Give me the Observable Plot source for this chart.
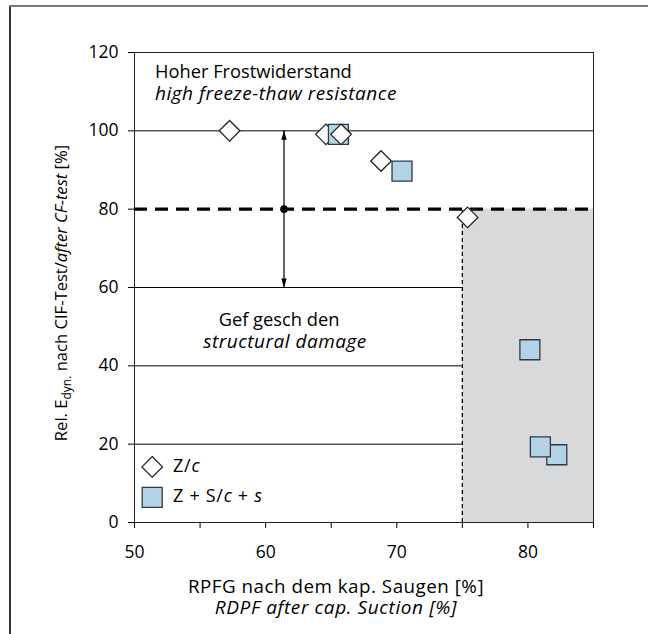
<!DOCTYPE html>
<html>
<head>
<meta charset="utf-8">
<script src="https://cdn.jsdelivr.net/npm/d3@7"></script>
<script src="https://cdn.jsdelivr.net/npm/@observablehq/plot@0.6"></script>
<style>
  html, body { margin: 0; padding: 0; background: #fff; }
  svg { display: block; }
</style>
</head>
<body>
<div id="chart"></div>
<script>
// ---- data ----
const seriesNames = ["Z/c", "Z + S/c + s"];
// points listed in drawing order (later ones on top)
const ptSeries = ["Z/c", "Z/c", "Z + S/c + s", "Z/c", "Z/c", "Z + S/c + s", "Z/c", "Z + S/c + s", "Z + S/c + s", "Z + S/c + s"];
const ptX = [57.25, 64.6, 65.55, 65.75, 68.8, 70.4, 75.4, 80.15, 82.2, 80.95];
const ptY = [100, 99.1, 99.1, 99.1, 92.3, 89.7, 77.9, 44.1, 17.3, 19.3];

const xTicks = [50, 55, 60, 65, 70, 75, 80, 85];
const yTicks = [0, 20, 40, 60, 80, 100, 120];
const xDomain = [50, 85];
const yDomain = [0, 120];

const limitX = 75;          // RPFG limit
const limitY = 80;          // rel. E_dyn limit
const gridFull = [100];
const gridPartial = [60, 40, 20];
const arrowX = 61.4;
const arrowRange = [60, 100];

const points = ptX.map((x, i) => ({x, y: ptY[i], s: ptSeries[i]}));

// ---- symbols ----
const diamondSym = {draw(ctx) { const h = 10.3; ctx.moveTo(0, -h); ctx.lineTo(h, 0); ctx.lineTo(0, h); ctx.lineTo(-h, 0); ctx.closePath(); }};
const squareSym = {draw(ctx) { const h = 10; ctx.moveTo(-h, -h); ctx.lineTo(h, -h); ctx.lineTo(h, h); ctx.lineTo(-h, h); ctx.closePath(); }};
const headSym = {draw(ctx) { ctx.moveTo(0, 0); ctx.lineTo(2.7, 9); ctx.lineTo(-2.7, 9); ctx.closePath(); }};

const fillOf = s => s === "Z/c" ? "#ffffff" : "#b5d3e7";
const strokeOf = s => s === "Z/c" ? "#222222" : "#2e3a44";

const chart = Plot.plot({
  width: 648,
  height: 634,
  marginLeft: 134,
  marginRight: 55,
  marginTop: 52,
  marginBottom: 112,
  style: {fontFamily: "'Open Sans', sans-serif", fontSize: "17.5px", color: "#000", background: "#fff"},
  x: {domain: xDomain},
  y: {domain: yDomain},
  symbol: {domain: seriesNames, range: [diamondSym, squareSym]},
  marks: [
    // shaded region
    Plot.rect([{x1: limitX, x2: xDomain[1], y1: yDomain[0], y2: limitY}], {x1: "x1", x2: "x2", y1: "y1", y2: "y2", fill: "#d8d9db"}),
    // grid lines
    Plot.ruleY(gridFull, {stroke: "#000", strokeWidth: 1}),
    Plot.ruleY(gridPartial, {x1: xDomain[0], x2: limitX, stroke: "#000", strokeWidth: 1}),
    // vertical dashed limit
    Plot.ruleX([limitX], {y1: yDomain[0], y2: limitY, stroke: "#000", strokeWidth: 1.3, strokeDasharray: "4,3"}),
    // axes
    Plot.axisY({ticks: yTicks, tickSize: 6, tickPadding: 10, label: null, fontSize: 17.5}),
    Plot.axisX({ticks: xTicks, tickSize: 6, tickPadding: 17, label: null, fontSize: 17.5, tickFormat: d => d % 10 === 0 ? String(d) : ""}),
    Plot.frame({stroke: "#222", strokeWidth: 1}),
    // thick dashed limit line
    Plot.ruleY([limitY], {stroke: "#000", strokeWidth: 3.2, strokeDasharray: "13,8"}),
    // double arrow
    Plot.ruleX([arrowX], {y1: arrowRange[0], y2: arrowRange[1], stroke: "#000", strokeWidth: 1.2}),
    Plot.dot([arrowRange[1]], {x: () => arrowX, y: d => d, symbol: headSym, fill: "#000", stroke: "none"}),
    Plot.dot([arrowRange[0]], {x: () => arrowX, y: d => d, symbol: headSym, rotate: 180, fill: "#000", stroke: "none"}),
    Plot.dot([limitY], {x: () => arrowX, y: d => d, r: 3.8, fill: "#000", stroke: "none"}),
    // data points
    Plot.dot(points, {x: "x", y: "y", symbol: "s", fill: d => fillOf(d.s), stroke: d => strokeOf(d.s), strokeWidth: 1.3}),
    // legend symbols
    Plot.dot(seriesNames, {x: () => 51.35, y: (d, i) => [14.2, 6.4][i], symbol: d => d, fill: d => fillOf(d), stroke: d => strokeOf(d), strokeWidth: 1.3})
  ]
});

document.getElementById("chart").appendChild(chart);

// ---- text annotations ----
const svg = d3.select(chart);
const font = "'Open Sans', sans-serif";

// lines: array of {x, y, size, ls, parts:[{t, i, fs, dy}]}; all lines in one <text>
function addText(lines, opts = {}) {
  const t = svg.append("text")
    .attr("text-anchor", opts.anchor || "start")
    .attr("font-family", font)
    .attr("font-size", opts.size || 18)
    .attr("fill", "#000");
  if (opts.transform) t.attr("transform", opts.transform);
  lines.forEach(line => {
    line.parts.forEach((p, k) => {
      const ts = t.append("tspan").text(p.t);
      if (k === 0) ts.attr("x", line.x).attr("y", line.y);
      if (p.i) ts.attr("font-style", "italic");
      if (p.fs) ts.attr("font-size", p.fs);
      else if (line.size) ts.attr("font-size", line.size);
      if (line.ls) ts.attr("letter-spacing", line.ls);
      if (p.dy) ts.attr("dy", p.dy);
    });
  });
  return t;
}

// region labels
addText([
  {x: 155, y: 78, size: 18.3, parts: [{t: "Hoher Frostwiderstand"}]},
  {x: 155, y: 100, size: 19, ls: 0.5, parts: [{t: "high freeze-thaw resistance", i: true}]}
]);
addText([
  {x: 279, y: 326, size: 18.3, parts: [{t: "Gef gesch den"}]},
  {x: 285, y: 348, size: 19, ls: 0.5, parts: [{t: "structural damage", i: true}]}
], {anchor: "middle"});

// legend labels
addText([
  {x: 173, y: 472, ls: 0.8, parts: [{t: "Z/"}, {t: "c", i: true}]},
  {x: 173, y: 502, ls: 0.7, parts: [{t: "Z + S/"}, {t: "c", i: true}, {t: " + "}, {t: "s", i: true}]}
], {size: 18});

// x axis title
addText([
  {x: 336, y: 593, size: 18.8, ls: 0.5, parts: [{t: "RPFG nach dem kap. Saugen [%]"}]},
  {x: 336, y: 614, size: 19, ls: 0.6, parts: [{t: "RDPF after cap. Suction [%]", i: true}]}
], {anchor: "middle"});

// y axis title (rotated)
addText([
  {x: 0, y: 0, parts: [
    {t: "Rel. E"},
    {t: "dyn.", fs: 12, dy: 4},
    {t: " nach CIF-Test/", dy: -4},
    {t: "after CF-test", i: true},
    {t: " [%]"}
  ]}
], {anchor: "middle", size: 16.6, transform: "translate(67,293) rotate(-90)"});

// outer page border (left and top)
svg.append("line").attr("x1", 10).attr("x2", 10).attr("y1", 5).attr("y2", 634).attr("stroke", "#333").attr("stroke-width", 2);
svg.append("line").attr("x1", 9).attr("x2", 648).attr("y1", 6).attr("y2", 6).attr("stroke", "#777").attr("stroke-width", 2);
</script>
</body>
</html>
